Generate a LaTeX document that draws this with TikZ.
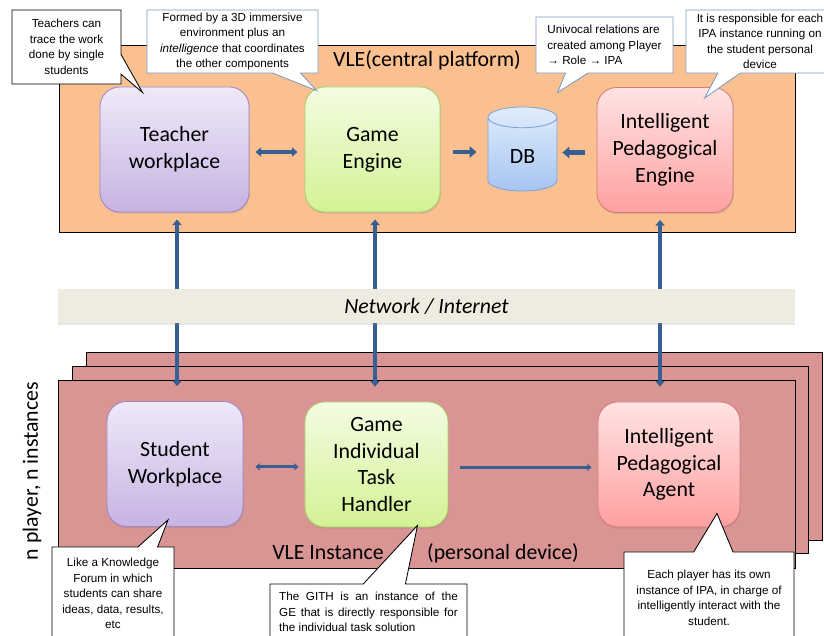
\documentclass[tikz,border=0pt]{standalone}
\usepackage{fontspec}
\setmainfont{Carlito}
\newfontfamily\notefont{Liberation Sans}
\usetikzlibrary{arrows.meta,shapes.geometric,shapes.callouts,shadows,calc}

\definecolor{platform}{HTML}{FAC090}
\definecolor{instance}{HTML}{D99594}
\definecolor{netbar}{HTML}{EEECE1}
\definecolor{linkblue}{HTML}{376092}
\definecolor{noteblue}{HTML}{7D99C0}
\definecolor{purpletop}{HTML}{EFE9F8}
\definecolor{purplebot}{HTML}{C7B3E3}
\definecolor{purpleedge}{HTML}{9D87C8}
\definecolor{greentop}{HTML}{F3FCE2}
\definecolor{greenbot}{HTML}{D3F294}
\definecolor{greenedge}{HTML}{A8CF6A}
\definecolor{redtop}{HTML}{FFE3E3}
\definecolor{redbot}{HTML}{FFA0A0}
\definecolor{rededge}{HTML}{D9797A}
\definecolor{bluetop}{HTML}{E1ECFB}
\definecolor{bluebot}{HTML}{A6C5F3}
\definecolor{blueedge}{HTML}{7EA2D6}

\tikzset{
  bigtext/.style={font=\fontsize{15.5}{19}\selectfont},
  comp/.style={bigtext, rounded corners=14pt, draw, line width=0.6pt, align=center,
    minimum height=3.125cm,
    drop shadow={opacity=0.25, shadow xshift=0.6pt, shadow yshift=-1.2pt}},
  purplebox/.style={comp, draw=purpleedge, top color=purpletop, bottom color=purplebot},
  greenbox/.style={comp, draw=greenedge, top color=greentop, bottom color=greenbot},
  redbox/.style={comp, draw=rededge, top color=redtop, bottom color=redbot},
  dbbox/.style={bigtext, cylinder, shape border rotate=90, aspect=0.6, draw=blueedge,
    line width=0.6pt, top color=bluetop, bottom color=bluebot},
  panel/.style={draw=black, line width=0.6pt},
  netbox/.style={bigtext, fill=netbar, minimum width=18.425cm, minimum height=0.85cm,
    drop shadow={opacity=0.2, shadow xshift=0pt, shadow yshift=-1.2pt}},
  note/.style={rectangle callout, draw, fill=white, line width=0.6pt, align=center,
    inner sep=1pt, font=\notefont\fontsize{8.3}{11}\selectfont},
  toplink/.style={draw=linkblue, line width=2.8pt},
  sidelink/.style={draw=linkblue, line width=2.2pt},
  vlink/.style={draw=linkblue, line width=2.6pt,
    {Triangle[length=4pt,width=6.5pt]}-{Triangle[length=4pt,width=6.5pt]}}
}

\begin{document}
\begin{tikzpicture}[x=0.025cm, y=-0.025cm]

	\path[use as bounding box, clip] (0,0) rectangle (824,636);

	% Platform and player instances
	\draw[panel, fill=platform] (59,45) rectangle (795,232);
	\draw[panel, fill=instance] (86,352) rectangle (822,540);
	\draw[panel, fill=instance] (72,366) rectangle (808,553);
	\draw[panel, fill=instance] (58,380) rectangle (795,568);

	% Labels
	\node[bigtext] (vle) at (427,60) {VLE(central platform)};
	\node[bigtext] (inst) at (328,553) {VLE Instance};
	\node[bigtext] (dev) at (503,553) {(personal device)};
	\node[bigtext, rotate=90] (players) at (32,471) {n player, n instances};

	% Central components
	\node[purplebox, minimum width=3.725cm] (teacher) at (174.5,149.5) {Teacher\\workplace};
	\node[greenbox, minimum width=3.375cm] (ge) at (372.5,149.5) {Game\\Engine};
	\node[dbbox, minimum width=1.725cm, minimum height=2.1cm] (db) at (522.5,157) {DB};
	\node[redbox, minimum width=3.4cm] (ipe) at (665,150) {Intelligent\\Pedagogical\\Engine};

	% Instance components
	\node[purplebox, minimum width=3.4cm] (student) at (175,464) {Student\\Workplace};
	\node[greenbox, minimum width=3.575cm] (gith) at (376.5,464.5) {Game\\Individual\\Task\\Handler};
	\node[redbox, minimum width=3.55cm] (ipa) at (669,464.5) {Intelligent\\Pedagogical\\Agent};

	% Links
	\draw[toplink, {Triangle[length=4pt,width=6.5pt]}-{Triangle[length=4pt,width=6.5pt]},
		shorten <=4.3pt, shorten >=5pt]
		([yshift=-1.8pt]teacher.east) -- ([yshift=-1.8pt]teacher.east -| ge.west);
	\draw[toplink, line width=3.4pt, -{Triangle[length=5pt,width=8pt]},
		shorten <=9.2pt, shorten >=7.8pt]
		([yshift=-1.8pt]ge.east) -- ([yshift=-1.8pt]ge.east -| db.west);
	\draw[toplink, line width=3.4pt, -{Triangle[length=5pt,width=8pt]},
		shorten <=8.5pt, shorten >=3.5pt]
		([yshift=-1.8pt]ipe.west) -- ([yshift=-1.8pt]ipe.west -| db.east);
	\draw[sidelink, {Triangle[length=3pt,width=5pt]}-{Triangle[length=3pt,width=5pt]},
		shorten <=8.5pt, shorten >=4.3pt]
		([yshift=-2pt]student.east) -- ([yshift=-2pt]student.east -| gith.west);
	\draw[sidelink, -{Triangle[length=3pt,width=5pt]},
		shorten <=8.5pt, shorten >=4.3pt]
		([yshift=-2pt]gith.east) -- ([yshift=-2pt]gith.east -| ipa.west);

	\draw[vlink, shorten <=5pt, shorten >=10.6pt]
		([xshift=1.8pt]teacher.south) -- ([xshift=1.8pt]teacher.south |- student.north);
	\draw[vlink, shorten <=5pt, shorten >=10.6pt]
		([xshift=1.8pt]ge.south) -- ([xshift=1.8pt]ge.south |- gith.north);
	\draw[vlink, shorten <=5pt, shorten >=10.6pt]
		([xshift=-3.5pt]ipe.south) -- ([xshift=-3.5pt]ipe.south |- ipa.north);

	% Network
	\node[netbox] (net) at (426.5,306) {\textit{Network / Internet}};

	% Notes
	\node[note, minimum width=2.725cm, minimum height=1.85cm, callout pointer width=14pt,
		callout absolute pointer={($(teacher.north west)+(43,6)$)}] (teachernote) at (66.5,47)
		{Teachers can\\trace the work\\done by single\\students};
	\node[note, draw=noteblue, minimum width=4.275cm, minimum height=1.575cm, callout pointer width=20pt,
		callout absolute pointer={($(ge.north west)+(12,4)$)}] (genote) at (232.5,41.5)
		{Formed by a 3D immersive\\environment plus an\\\textit{intelligence} that coordinates\\the other components};
	\node[note, draw=noteblue, align=left, minimum width=3.425cm, minimum height=1.4cm, callout pointer width=16pt,
		callout absolute pointer={($(db.north)+(35,-14)$)}] (dbnote) at (604.5,45)
		{Univocal relations are\\created among Player\\→ Role → IPA};
	\node[note, draw=noteblue, minimum width=3.7cm, minimum height=1.575cm, callout pointer width=16pt,
		callout absolute pointer={($(ipe.north west)+(108,11)$)}] (ipenote) at (760,41.5)
		{It is responsible for each\\IPA instance running on\\the student personal\\device};
	\node[note, minimum width=3.05cm, minimum height=2.325cm, callout pointer width=14pt,
		callout absolute pointer={($(student.south)+(-7,-7)$)}] (studentnote) at (113,593.5)
		{Like a Knowledge\\Forum in which\\students can share\\ideas, data, results,\\etc};
	\node[note, align=left, minimum width=4.925cm, minimum height=1.4cm, callout pointer width=30pt,
		callout absolute pointer={($(gith.south)+(41,-2)$)}] (githnote) at (368.5,612)
		{\makebox[127pt][s]{The GITH is an instance of the}\\
		 \makebox[127pt][s]{GE that is directly responsible for}\\
		 the individual task solution};
	\node[note, minimum width=4.25cm, minimum height=2.3cm, callout pointer width=28pt,
		callout absolute pointer={($(ipa.south)+(48,-14)$)}] (ipanote) at (709,598)
		{Each player has its own\\instance of IPA, in charge of\\intelligently interact with the\\student.};

\end{tikzpicture}
\end{document}
